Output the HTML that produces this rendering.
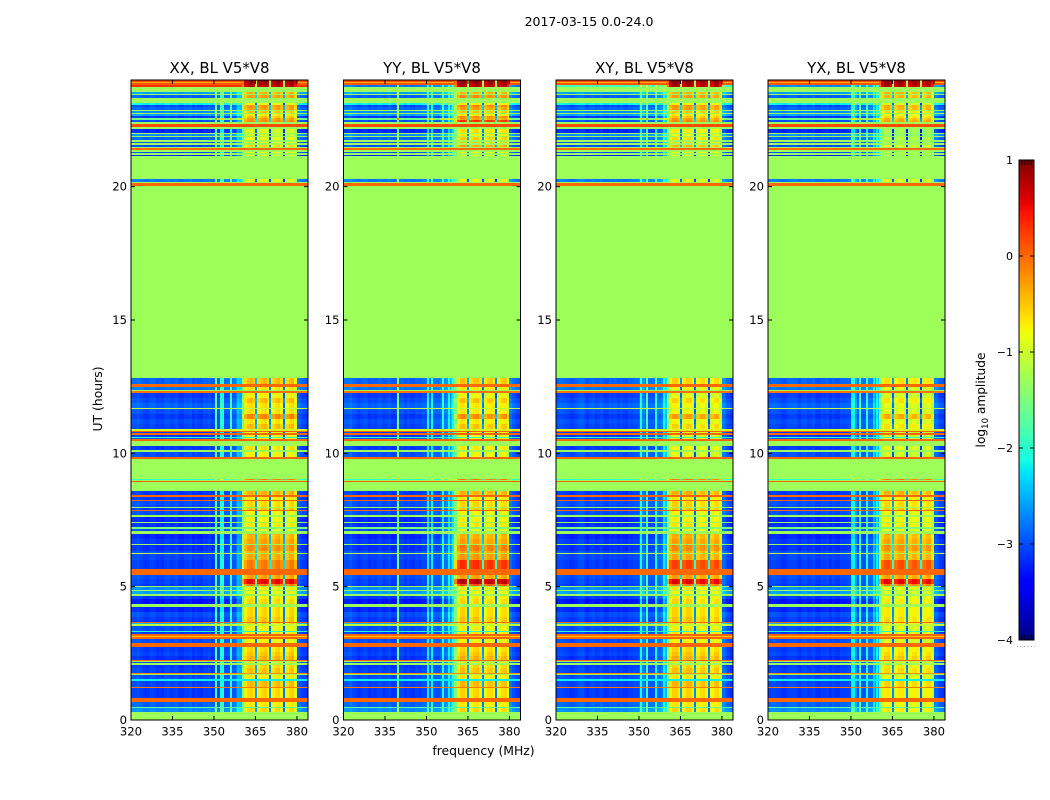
<!DOCTYPE html>
<html>
<head>
<meta charset="utf-8">
<title>2017-03-15 0.0-24.0</title>
<style>
html,body{margin:0;padding:0;background:#fff;}
svg{display:block;font-family:"DejaVu Sans","Liberation Sans",sans-serif;fill:#000;}
</style>
</head>
<body>
<svg id="chart" xmlns="http://www.w3.org/2000/svg" width="1050" height="800" viewBox="0 0 1050 800">
  <text x="589" y="26" font-size="12.5" text-anchor="middle">2017-03-15 0.0-24.0</text>
  <text x="483.5" y="755" font-size="12.4" text-anchor="middle">frequency (MHz)</text>
  <text transform="translate(102,399) rotate(-90)" font-size="12.4" text-anchor="middle">UT (hours)</text>
  <text transform="translate(985,400) rotate(-90)" font-size="12.2" text-anchor="middle">log<tspan font-size="8.5" dy="3">10</tspan><tspan dy="-3"> amplitude</tspan></text>
  <g id="panels"></g>
  <g id="colorbar"></g>
</svg>
<script>
// Panels
const panelTitles = ["XX, BL V5*V8", "YY, BL V5*V8", "XY, BL V5*V8", "YX, BL V5*V8"];
const xTicks = [320, 335, 350, 365, 380];
const yTicks = [0, 5, 10, 15, 20];
const colorbarTicks = [1, 0, -1, -2, -3, -4];

// Time rows: start hour (UT), log10 amplitude outside the signal band, log10 amplitude in the band (null = uniform row)
const rowStart = [0,.30,.45,.50,.675,.825,1.20,1.23,1.47,1.54,1.70,1.74,1.77,1.95,2.07,2.13,2.16,2.21,2.25,2.40,2.55,2.75,2.88,3.04,3.12,3.15,3.22,3.30,3.35,3.54,3.60,3.65,3.69,3.86,4.05,4.23,4.35,4.52,4.65,4.72,4.83,4.88,4.98,5.03,5.10,5.29,5.44,5.67,6.00,6.23,6.27,6.34,6.56,6.60,6.79,6.99,7.08,7.16,7.22,7.37,7.41,7.62,7.67,7.82,7.88,7.95,8.00,8.21,8.26,8.37,8.42,8.59,8.95,8.97,9.00,9.04,9.80,9.85,10.05,10.125,10.275,10.47,10.52,10.575,10.62,10.70,10.76,10.80,10.855,10.90,11.10,11.29,11.475,11.65,11.70,11.89,12.075,12.26,12.32,12.375,12.50,12.60,12.81,20.025,20.14,20.175,20.29,21.15,21.19,21.27,21.31,21.39,21.44,21.48,21.57,21.64,21.69,21.75,21.85,21.90,21.975,22.01,22.15,22.22,22.35,22.41,22.50,22.56,22.66,22.725,22.77,22.84,22.875,22.99,23.08,23.14,23.325,23.44,23.475,23.56,23.72,23.81,23.87,23.925];
const rowBackground = [-1.3,-2.7,-1.7,-2.9,0,-3.1,-.1,-3.05,-2.2,-3,-1.3,-.2,-3.05,-3.1,-1.3,-3,-1.3,0,-3.15,-3.05,-3.1,0,-3,0,-.5,0,-3.1,-2,-3,-1.1,-2.5,0,-3.1,-3,-3.2,-1.3,-3.3,-3.1,-1.3,-2.6,-1.3,-2.7,-1.3,-3.1,-3.05,-3,0,-3.1,-3.05,-1.2,-3,-3.15,-1.3,-3.1,-3.2,-1.3,-3,-1.5,-3.15,-1.3,-3.2,-1.3,-3,0,-3.1,-1.3,-3,0,-3.1,0,-3.1,-1.3,0,-1.3,-2,-1.3,0,-3,-1.3,-3.1,-1.3,0,-3,-1.9,-3.1,0,-3.1,.05,-1,-3.05,-3,-3.1,-3,-1.1,-2.9,-3,-3.1,-.05,-1.3,-2.8,0,-2.9,-1.3,0,-1.3,-2.8,-1.3,-3.2,-1.3,-3,-1.3,0,-1.3,-3,-1.3,-3,-1.3,-2.9,-1.3,-2.7,-1.3,-3.2,-1.3,.15,-1.3,-3,-1.6,-3.1,-2.6,-1.3,-2.7,-1.3,-2.9,-3,-2.2,-1.3,-2.9,-1.3,-2.6,-1.3,.3,.1,-.35,.15];
const rowBand = [null,-.6,null,-.7,null,-.6,null,-.45,null,-.7,null,null,-.5,-.6,null,-.7,null,null,-.4,-.5,-.6,null,-.8,null,null,null,-.7,null,-.75,null,-.6,null,-.5,-.6,-.6,null,-.6,-.7,null,-.8,null,-.7,null,-.1,.55,-.3,null,-.1,-.35,null,-.4,-.2,null,-.3,-.4,null,-.8,null,-.7,null,-.75,null,-.8,null,-.5,null,-.6,null,-.7,null,-.4,null,null,null,-.1,null,null,-.8,null,-.7,null,null,-.8,null,-.8,null,-.8,null,null,-.5,-.7,-.2,-.7,null,-.7,-.5,-.8,null,null,-.7,null,-.5,null,null,null,-.9,null,-.9,null,-.8,null,null,null,-.6,null,-.8,null,-.8,null,-1,null,-.9,null,null,null,-.2,-.3,-.5,-.7,null,-.5,null,-.3,-.25,-.8,null,-.3,null,-.4,null,.75,.85,.9,.95];

// Per-channel (1 MHz, 320-383) log10 offsets for each panel
const xxChannel = [.08,.05,.12,.05,0,-.05,-.02,.05,.03,-.05,0,-.05,.03,.05,-.03,0,.05,-.05,-.06,.03,0,.05,-.05,.03,-.03,-.06,.03,0,.05,-.03,.05,.02,.06,.04,.08,.1,.1,.15,.3,.5,-.9,-.2,0,.05,-.1,-.15,-.1,0,.05,-.15,-.2,-.15,0,.05,-.15,-.2,-.15,0,.05,-.3,.15,.05,0,-.05];
const yyChannel = [.1,.08,.14,.05,.03,-.05,0,.05,.03,-.05,0,-.03,.03,.05,-.03,0,.05,-.05,-.05,.03,.05,.05,-.05,.03,-.03,-.05,.03,0,.05,.05,.1,.1,.1,.1,.1,.2,.25,.3,.4,.6,-.9,-.15,.05,.05,-.1,-.15,-.1,.02,.05,-.15,-.2,-.2,-.03,0,-.2,-.2,-.2,-.03,0,-.35,.25,.1,0,-.05];
const xyChannel = [.05,.08,.05,.03,0,-.05,-.03,.03,.08,.1,.03,-.05,.03,.05,-.03,0,.05,-.05,-.05,.03,0,.03,-.05,.03,-.03,-.05,.03,0,.05,.05,.2,.3,.1,.1,.1,.1,.2,.2,.3,.6,-.8,-.15,.05,.05,-.1,-.15,-.1,.05,.05,-.15,-.2,-.2,-.03,0,-.2,-.2,-.2,-.03,0,-.35,.25,.1,.03,-.05];
const yxChannel = [.03,.05,.05,.03,0,-.05,-.03,.03,.05,.05,.03,-.05,.03,.05,-.03,0,.05,-.05,-.05,.03,0,.03,-.05,.03,-.03,-.05,.03,0,.03,.05,.3,.4,.1,.1,.1,.1,.2,.2,.3,.6,-.8,-.2,0,.03,-.15,-.2,-.15,0,.03,-.2,-.25,-.2,-.05,-.03,-.2,-.25,-.2,-.05,-.03,-.4,.2,.1,0,-.05];

// Narrow vertical interference lines per panel: frequency (MHz) and log10 boost over the background
const xxLineFreqs = [350.9, 352.4, 353.2, 356, 358.6];
const xxLineBoost = [1.3, 1.0, 1.0, 1.1, .6];
const yyLineFreqs = [339.8, 350.7, 351.9, 356, 358.3, 359.7];
const yyLineBoost = [1.5, .9, .9, 1, .9, .9];
const xyLineFreqs = [350.7, 353, 356, 359];
const xyLineBoost = [1, 1.2, 1, .9];
const yxLineFreqs = [350.4, 351.2, 353.1, 355.7, 358.5, 359.3];
const yxLineBoost = [.9, .9, 1.1, 1, .7, .9];

// Narrow gaps between the four signal sub-bands
const bandGapFreqs = [365.1, 370.4, 375.3];
const bandGapDrop = [-2.0, -2.1, -2.2];

// Per-panel band and background adjustments: [start hour, end hour, log10 delta]
const xxBandAdjust = [[9.85,12.8,.05]];
const yyBandAdjust = [[5.03,5.29,.2],[5.67,6.0,.4],[21.4,22.1,.25],[22.41,22.5,.5],[22.56,22.66,.3],[23.0,23.4,.1],[6.0,6.6,.1]];
const xyBandAdjust = [[5.67,6.0,.3],[9.85,12.8,-.1],[21.4,22.1,.15]];
const yxBandAdjust = [[5.67,6.0,.25],[.3,5,-.1],[9.85,12.8,-.15],[21.15,22.15,-.3],[22.41,23.4,-.1]];
const xxBackgroundAdjust = [[23.72,23.81,0]];
const yyBackgroundAdjust = [[23.72,23.81,-3.1]];
const xyBackgroundAdjust = [[23.72,23.81,-2.2]];
const yxBackgroundAdjust = [[23.72,23.81,-3]];

const panelChannels = [xxChannel, yyChannel, xyChannel, yxChannel];
const panelLineFreqs = [xxLineFreqs, yyLineFreqs, xyLineFreqs, yxLineFreqs];
const panelLineBoosts = [xxLineBoost, yyLineBoost, xyLineBoost, yxLineBoost];
const panelBandAdjusts = [xxBandAdjust, yyBandAdjust, xyBandAdjust, yxBandAdjust];
const panelBackgroundAdjusts = [xxBackgroundAdjust, yyBackgroundAdjust, xyBackgroundAdjust, yxBackgroundAdjust];

// Layout
const SVGNS = "http://www.w3.org/2000/svg";
const panelLefts = [131, 343.5, 556, 768];
const panelWidth = 177, panelTop = 80, panelBottom = 720;
const freqMin = 320, freqMax = 384, hourMin = 0, hourMax = 24;
const levelMin = -4, levelMax = 1;
const bandFirst = 40, bandLast = 59;

function xScale(left, f) { return left + (f - freqMin) / (freqMax - freqMin) * panelWidth; }
function yScale(h) { return panelBottom - (h - hourMin) / (hourMax - hourMin) * (panelBottom - panelTop); }
function segment(x, x0, y0, x1, y1) {
  if (x <= x0) return y0;
  if (x >= x1) return y1;
  return y0 + (y1 - y0) * (x - x0) / (x1 - x0);
}
function pw(x, pts) {
  for (let i = 1; i < pts.length; i++) {
    if (x <= pts[i][0]) return segment(x, pts[i-1][0], pts[i-1][1], pts[i][0], pts[i][1]);
  }
  return pts[pts.length-1][1];
}
function jet(level) {
  const x = Math.max(0, Math.min(1, (level - levelMin) / (levelMax - levelMin)));
  const r = pw(x, [[0,0],[.35,0],[.66,1],[.89,1],[1,.5]]);
  const g = pw(x, [[0,0],[.125,0],[.375,1],[.64,1],[.91,0],[1,0]]);
  const b = pw(x, [[0,.5],[.11,1],[.34,1],[.65,0],[1,0]]);
  return "rgb(" + Math.round(r*255) + "," + Math.round(g*255) + "," + Math.round(b*255) + ")";
}
function svgEl(tag, parent) {
  const el = document.createElementNS(SVGNS, tag);
  parent.appendChild(el);
  return el;
}
function adjustAt(list, h) {
  let d = 0;
  for (const a of list) { if (h >= a[0] && h < a[1]) d += a[2]; }
  return d;
}

const panelsRoot = document.getElementById("panels");
panelTitles.forEach(function (title, p) {
  const left = panelLefts[p];
  const g = svgEl("g", panelsRoot);
  
  
  const channels = panelChannels[p];
  const cells = svgEl("g", g);
  
  
  cells.setAttribute("shape-rendering", "crispEdges");
  for (let r = 0; r < rowStart.length; r++) {
    const h0 = rowStart[r];
    const h1 = r + 1 < rowStart.length ? rowStart[r + 1] : hourMax;
    const yTop = Math.round(yScale(h1));
    const yBot = Math.round(yScale(h0));
    const rowH = Math.max(1, yBot - yTop);
    const mid = (h0 + h1) / 2;
    const bg = rowBackground[r] + adjustAt(panelBackgroundAdjusts[p], mid);
    if (rowBand[r] === null) {
      const cell = svgEl("rect", cells);
      
      
      cell.setAttribute("x", left);
      cell.setAttribute("y", yTop);
      cell.setAttribute("width", panelWidth);
      cell.setAttribute("height", rowH);
      cell.setAttribute("fill", jet(bg));
      continue;
    }
    const band = rowBand[r] + adjustAt(panelBandAdjusts[p], mid);
    for (let c = 0; c < channels.length; c++) {
      const f0 = freqMin + c, f1 = f0 + 1;
      const inBand = c >= bandFirst && c <= bandLast;
      let level;
      if (inBand) level = band + channels[c];
      else if (bg < -1.5) level = bg + channels[c];
      else level = bg;
      const xa = Math.round(xScale(left, f0));
      const xb = Math.round(xScale(left, f1));
      const cell = svgEl("rect", cells);
      
      
      cell.setAttribute("x", xa);
      cell.setAttribute("y", yTop);
      cell.setAttribute("width", xb - xa);
      cell.setAttribute("height", rowH);
      cell.setAttribute("fill", jet(level));
    }
    if (bg < -1.5) {
      panelLineFreqs[p].forEach(function (f, i) {
        const line = svgEl("rect", cells);
        
        
        line.setAttribute("x", Math.round(xScale(left, f)) - 1);
        line.setAttribute("y", yTop);
        line.setAttribute("width", 2);
        line.setAttribute("height", rowH);
        line.setAttribute("fill", jet(bg + panelLineBoosts[p][i]));
      });
    }
    bandGapFreqs.forEach(function (f, i) {
      const gap = svgEl("rect", cells);
      
      
      gap.setAttribute("x", Math.round(xScale(left, f)) - 1);
      gap.setAttribute("y", yTop);
      gap.setAttribute("width", 2);
      gap.setAttribute("height", rowH);
      gap.setAttribute("fill", jet(band + bandGapDrop[i]));
    });
  }
  const frame = svgEl("rect", g);
  
  
  frame.setAttribute("x", left);
  frame.setAttribute("y", panelTop);
  frame.setAttribute("width", panelWidth);
  frame.setAttribute("height", panelBottom - panelTop);
  frame.setAttribute("fill", "none");
  frame.setAttribute("stroke", "#000");
  frame.setAttribute("stroke-width", "1");

  const titleEl = svgEl("text", g);
  
  
  titleEl.setAttribute("x", left + panelWidth / 2);
  titleEl.setAttribute("y", 73);
  titleEl.setAttribute("font-size", "14.9");
  titleEl.setAttribute("text-anchor", "middle");
  titleEl.textContent = title;

  xTicks.forEach(function (t) {
    const x = xScale(left, t);
    const d = "M" + x + " " + panelBottom + "V" + (panelBottom - 4) + "M" + x + " " + panelTop + "V" + (panelTop + 4);
    const tick = svgEl("path", g);
    
    
    tick.setAttribute("d", d);
    tick.setAttribute("stroke", "#000");
    tick.setAttribute("stroke-width", "1");
    const label = svgEl("text", g);
    
    
    label.setAttribute("x", x);
    label.setAttribute("y", 735.5);
    label.setAttribute("font-size", "11.6");
    label.setAttribute("text-anchor", "middle");
    label.textContent = t;
  });
  yTicks.forEach(function (t) {
    const y = yScale(t);
    const d = "M" + left + " " + y + "H" + (left + 4) + "M" + (left + panelWidth) + " " + y + "H" + (left + panelWidth - 4);
    const tick = svgEl("path", g);
    
    
    tick.setAttribute("d", d);
    tick.setAttribute("stroke", "#000");
    tick.setAttribute("stroke-width", "1");
    const label = svgEl("text", g);
    
    
    label.setAttribute("x", left - 4);
    label.setAttribute("y", y + 4);
    label.setAttribute("font-size", "11.6");
    label.setAttribute("text-anchor", "end");
    label.textContent = t;
  });
});

// Colorbar
const barLeft = 1019, barWidth = 15, barTop = 160, barBottom = 640;
function barY(v) { return barBottom - (v - levelMin) / (levelMax - levelMin) * (barBottom - barTop); }
const barRoot = document.getElementById("colorbar");
const barCells = svgEl("g", barRoot);


barCells.setAttribute("shape-rendering", "crispEdges");
for (let py = barTop; py < barBottom; py++) {
  const v = levelMin + (barBottom - py - 0.5) / (barBottom - barTop) * (levelMax - levelMin);
  const s = svgEl("rect", barCells);
  
  
  s.setAttribute("x", barLeft);
  s.setAttribute("y", py);
  s.setAttribute("width", barWidth);
  s.setAttribute("height", 1);
  s.setAttribute("fill", jet(v));
}
const barFrame = svgEl("rect", barRoot);


barFrame.setAttribute("x", barLeft);
barFrame.setAttribute("y", barTop);
barFrame.setAttribute("width", barWidth);
barFrame.setAttribute("height", barBottom - barTop);
barFrame.setAttribute("fill", "none");
barFrame.setAttribute("stroke", "#000");
barFrame.setAttribute("stroke-width", "1");
colorbarTicks.forEach(function (t) {
  const y = barY(t);
  const label = svgEl("text", barRoot);
  
  
  label.setAttribute("x", barLeft - 6);
  label.setAttribute("y", y + 4);
  label.setAttribute("font-size", "11");
  label.setAttribute("text-anchor", "end");
  label.textContent = String(t).replace("-", "\u2212");
  if (t !== colorbarTicks[0] && t !== colorbarTicks[colorbarTicks.length - 1]) {
    const tick = svgEl("path", barRoot);
    
    
    tick.setAttribute("d", "M" + barLeft + " " + y + "h4M" + (barLeft + barWidth) + " " + y + "h-4");
    tick.setAttribute("stroke", "#000");
    tick.setAttribute("stroke-width", "1");
  }
});
const minorOffsets = [3, 6, 9, 12];
minorOffsets.forEach(function (dx) {
  const tick = svgEl("path", barRoot);
  
  
  tick.setAttribute("d", "M" + (barLeft + dx) + " " + barTop + "v5M" + (barLeft + dx) + " " + barBottom + "v-5");
  tick.setAttribute("stroke", "#000");
  tick.setAttribute("stroke-width", "1");
});
const dots = svgEl("line", barRoot);


dots.setAttribute("x1", 1017);
dots.setAttribute("x2", 1035);
dots.setAttribute("y1", 646.5);
dots.setAttribute("y2", 646.5);
dots.setAttribute("stroke", "#999");
dots.setAttribute("stroke-width", "1");
dots.setAttribute("stroke-dasharray", "1 2.5");
</script>
</body>
</html>
